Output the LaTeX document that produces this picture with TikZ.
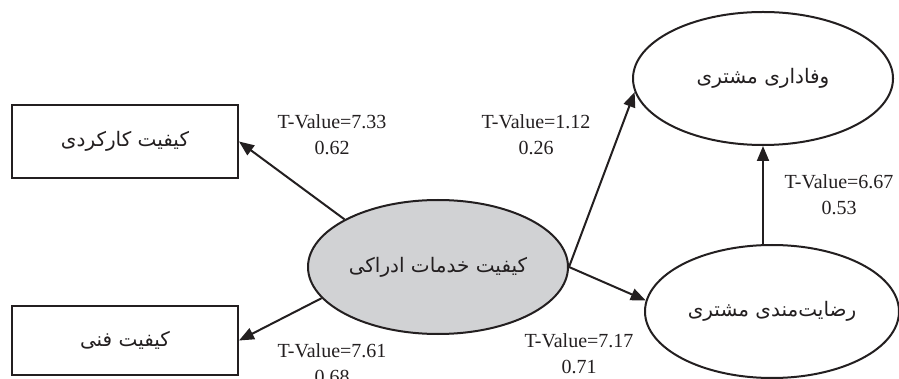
\documentclass[tikz,border=0pt]{standalone}
\usepackage{fontspec}
\setmainfont{Liberation Serif}
\newfontfamily\fafont[Script=Arabic]{DejaVu Sans}
\usetikzlibrary{arrows.meta,shapes.geometric}
\TeXXeTstate=1
\definecolor{ink}{HTML}{231F20}
\definecolor{ellgray}{HTML}{D1D2D4}
\begin{document}
\begin{tikzpicture}[x=1pt,y=-1pt,
  box/.style={draw=ink, line width=2pt, minimum width=226pt, inner sep=0pt},
  ell/.style={draw=ink, ellipse, line width=2pt, inner sep=0pt},
  fa/.style={font=\fafont\fontsize{20}{24}\selectfont, text=ink},
  lab/.style={align=center, font=\fontsize{20}{26}\selectfont, text=ink},
  arr/.style={draw=ink, line width=2pt, -{Triangle[length=15pt,width=12pt]}}]
\useasboundingbox (0,0) rectangle (899,379);
\clip (0,0) rectangle (899,379);
\fill[white] (0,0) rectangle (899,379);
% nodes
\node[box, minimum height=73pt, fa] (b1) at (125,141.5) {\beginR کیفیت کارکردی\endR};
\node[box, minimum height=69pt, fa] (b2) at (125,340.5) {\beginR کیفیت فنی\endR};
\node[ell, fill=ellgray, minimum width=260pt, minimum height=134pt, fa] (c) at (438,267) {\beginR کیفیت خدمات ادراکی\endR};
\node[ell, minimum width=260pt, minimum height=133pt, fa] (t) at (763,78.5) {\beginR وفاداری مشتری\endR};
\node[ell, minimum width=254pt, minimum height=133pt, fa] (r) at (772,311.5) {\beginR رضایت^^^^200cمندی مشتری\endR};
% connectors
\draw[arr] (c.153) -- (b1.east);
\draw[arr] (c.195) -- (b2.east);
\draw[arr] (c.east) -- (t.186);
\draw[arr] (c.east) -- (r.175);
\draw[arr] (t.south |- r.north) -- (t.south);
% labels
\node[lab] (l1) at (332,135) {T-Value=7.33\\0.62};
\node[lab] (l2) at (536,135) {T-Value=1.12\\0.26};
\node[lab] (l3) at (839,195) {T-Value=6.67\\0.53};
\node[lab] (l4) at (332,364) {T-Value=7.61\\0.68};
\node[lab] (l5) at (579,354) {T-Value=7.17\\0.71};
\end{tikzpicture}
\end{document}
